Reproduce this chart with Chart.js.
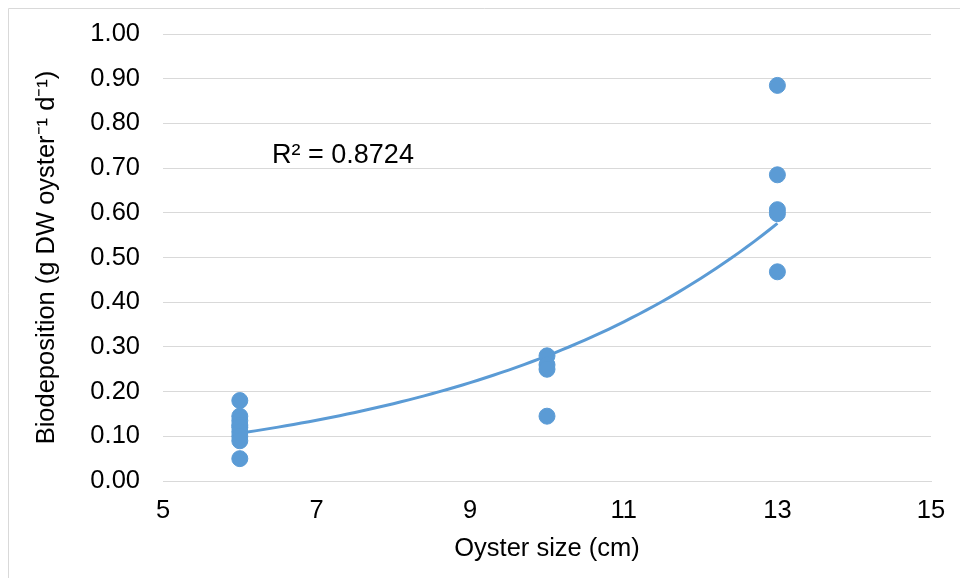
<!DOCTYPE html>
<html>
<head>
<meta charset="utf-8">
<script src="https://cdn.jsdelivr.net/npm/chart.js@4"></script>
<style>
  body { margin: 0; background: #fff; }
  #wrap { position: relative; width: 960px; height: 578px; }
</style>
</head>
<body>
<div id="wrap"><canvas id="chart" width="960" height="578"></canvas></div>
<script>
// oyster size (cm) and biodeposition
const sizes = [6, 6, 6, 6, 6, 6, 6, 6, 6, 10, 10, 10, 10, 13, 13, 13, 13, 13]
const biodep = [0.18, 0.145, 0.135, 0.125, 0.12, 0.11, 0.10, 0.09, 0.05,
                0.28, 0.26, 0.25, 0.145,
                0.885, 0.685, 0.607, 0.598, 0.468]
const xTicks = [5, 7, 9, 11, 13, 15]
const rLabel = 'R² = 0.8724'

const pts = sizes.map((x, i) => ({x: x, y: biodep[i]}))

// exponential trendline y = a*e^(bx), least squares on ln(y) like Excel
let n = pts.length, sx = 0, sy = 0, sxx = 0, sxy = 0
pts.forEach(p => {
    let ly = Math.log(p.y)
    sx += p.x; sy += ly; sxx += p.x * p.x; sxy += p.x * ly
})
const b = (n * sxy - sx * sy) / (n * sxx - sx * sx)
const a = Math.exp((sy - b * sx) / n)
const trend = []
for (let x = 6; x <= 13.0001; x += 0.1) trend.push({x: x, y: a * Math.exp(b * x)})

const fam = '"Liberation Sans", Arial, sans-serif'

const frame = {
    id: 'frame',
    beforeDraw(chart) {
        const c = chart.ctx
        c.save()
        c.strokeStyle = '#d9d9d9'
        c.lineWidth = 1
        c.beginPath()
        c.moveTo(8.5, 578); c.lineTo(8.5, 8.5); c.lineTo(960, 8.5)
        c.stroke()
        c.restore()
    },
    afterDatasetsDraw(chart) {
        const c = chart.ctx
        const xs = chart.scales.x, ys = chart.scales.y
        c.save()
        c.fillStyle = '#000'
        c.font = '27px ' + fam
        c.textBaseline = 'middle'
        c.fillText(rLabel, xs.getPixelForValue(6.42), ys.getPixelForValue(0.727))
        c.restore()
    }
}

new Chart(document.getElementById('chart'), {
    type: 'scatter',
    data: {
        datasets: [{
            label: 'Biodeposition',
            data: pts,
            backgroundColor: '#5b9bd5',
            borderColor: '#5b9bd5',
            pointRadius: 8,
            pointHoverRadius: 8,
            order: 1
        }, {
            label: 'Trend',
            type: 'line',
            data: trend,
            borderColor: '#5b9bd5',
            borderWidth: 3,
            pointRadius: 0,
            fill: false,
            order: 2
        }]
    },
    options: {
        responsive: false,
        animation: false,
        layout: { padding: { top: 34, right: 29, left: 0, bottom: 0 } },
        plugins: { legend: { display: false }, tooltip: { enabled: false } },
        scales: {
            x: {
                type: 'linear', min: 5, max: 15,
                afterBuildTicks: ax => { ax.ticks = xTicks.map(v => ({value: v})) },
                grid: { display: false, drawTicks: false },
                border: { display: true, color: '#d9d9d9', width: 1 },
                ticks: { color: '#000', padding: 15, font: { size: 25.5, family: fam } },
                title: { display: true, text: 'Oyster size (cm)', color: '#000', padding: { top: 0, bottom: 14 },
                         font: { size: 25.5, family: fam } },
                afterFit: ax => { ax.height = 97; ax.paddingLeft = 0; ax.paddingRight = 0 }
            },
            y: {
                min: 0, max: 1,
                ticks: { stepSize: 0.1, color: '#000', padding: 23,
                         callback: v => v.toFixed(2),
                         font: { size: 25.5, family: fam } },
                grid: { color: '#d9d9d9', drawTicks: false },
                border: { display: false },
                title: { display: true, text: 'Biodeposition (g DW oyster⁻¹ d⁻¹)', color: '#000',
                         padding: { top: 32, bottom: 0 },
                         font: { size: 25.5, family: fam } },
                afterFit: ax => { ax.width = 163; ax.paddingTop = 0; ax.paddingBottom = 0 }
            }
        }
    },
    plugins: [frame]
})
</script>
</body>
</html>
